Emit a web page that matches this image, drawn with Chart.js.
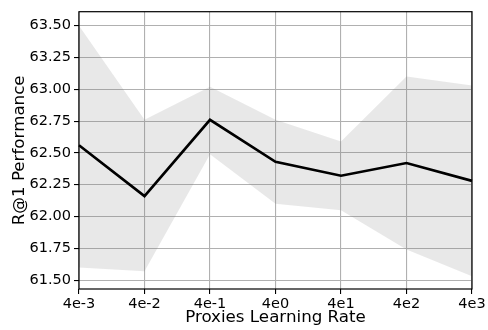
<!DOCTYPE html>
<html>
<head>
<meta charset="utf-8">
<script src="https://cdn.jsdelivr.net/npm/chart.js@4/dist/chart.umd.min.js"></script>
<style>
  html, body { margin: 0; padding: 0; background: #fff; }
  #wrap { width: 488px; height: 330px; }
</style>
</head>
<body>
<div id="wrap"><canvas id="chart" width="488" height="330"></canvas></div>
<script>
// Learning rates de los proxies (eje X categórico)
const rates = ["4e-3", "4e-2", "4e-1", "4e0", "4e1", "4e2", "4e3"];
// R@1 medio y banda min/max
const meanR1 = [62.56, 62.16, 62.76, 62.43, 62.32, 62.42, 62.28];
const upperR1 = [63.50, 62.76, 63.02, 62.76, 62.59, 63.10, 63.03];
const lowerR1 = [61.60, 61.57, 62.49, 62.10, 62.05, 61.74, 61.53];
const yTicks = [61.5, 61.75, 62.0, 62.25, 62.5, 62.75, 63.0, 63.25, 63.5];

const FONT = "'DejaVu Sans', sans-serif";
const GRID = "#b0b0b0";
const TICK_SIZE = 14.5;
const TITLE_SIZE = 16.7;

// Marco negro alrededor del área (spines de matplotlib)
const frame = {
    id: "frame",
    afterDatasetsDraw(chart) {
        const { ctx, chartArea: a } = chart;
        ctx.save();
        ctx.strokeStyle = "#000";
        ctx.lineWidth = 1.2;
        ctx.strokeRect(a.left, a.top, a.right - a.left, a.bottom - a.top);
        ctx.restore();
    },
};

new Chart(document.getElementById("chart"), {
    type: "line",
    data: {
        labels: rates,
        datasets: [
            {
                label: "mean",
                data: meanR1,
                borderColor: "#000",
                borderWidth: 2.6,
                pointRadius: 0,
                tension: 0,
                fill: false,
                order: 0,
            },
            {
                label: "upper",
                data: upperR1,
                borderWidth: 0,
                pointRadius: 0,
                backgroundColor: "rgba(120,120,120,0.17)",
                fill: "+1",
                order: 1,
            },
            {
                label: "lower",
                data: lowerR1,
                borderWidth: 0,
                pointRadius: 0,
                fill: false,
                order: 1,
            },
        ],
    },
    options: {
        responsive: false,
        animation: false,
        layout: { padding: { left: 0, top: 6, right: 16, bottom: 0 } },
        plugins: {
            legend: { display: false },
            tooltip: { enabled: false },
        },
        scales: {
            x: {
                type: "category",
                offset: false,
                afterFit: (s) => { s.height = 41; },
                grid: { color: GRID, lineWidth: 1.1, tickColor: "#000", tickLength: 5 },
                border: { display: false },
                ticks: { color: "#000", padding: 2, font: { family: FONT, size: TICK_SIZE }, maxRotation: 0 },
                title: {
                    display: true,
                    text: "Proxies Learning Rate",
                    color: "#000",
                    font: { family: FONT, size: TITLE_SIZE },
                    padding: { top: 0, bottom: 2 },
                },
            },
            y: {
                min: 61.43,
                max: 63.61,
                afterFit: (s) => { s.width = 79; },
                afterBuildTicks: (s) => { s.ticks = yTicks.map((v) => ({ value: v })); },
                grid: { color: GRID, lineWidth: 1.1, tickColor: "#000", tickLength: 5 },
                border: { display: false },
                ticks: {
                    color: "#000",
                    padding: 3,
                    font: { family: FONT, size: TICK_SIZE },
                    callback: (v) => Number(v).toFixed(2),
                },
                title: {
                    display: true,
                    text: "R@1 Performance",
                    color: "#000",
                    font: { family: FONT, size: TITLE_SIZE },
                    padding: { top: 9.5, bottom: 0 },
                },
            },
        },
    },
    plugins: [frame],
});
</script>
</body>
</html>
